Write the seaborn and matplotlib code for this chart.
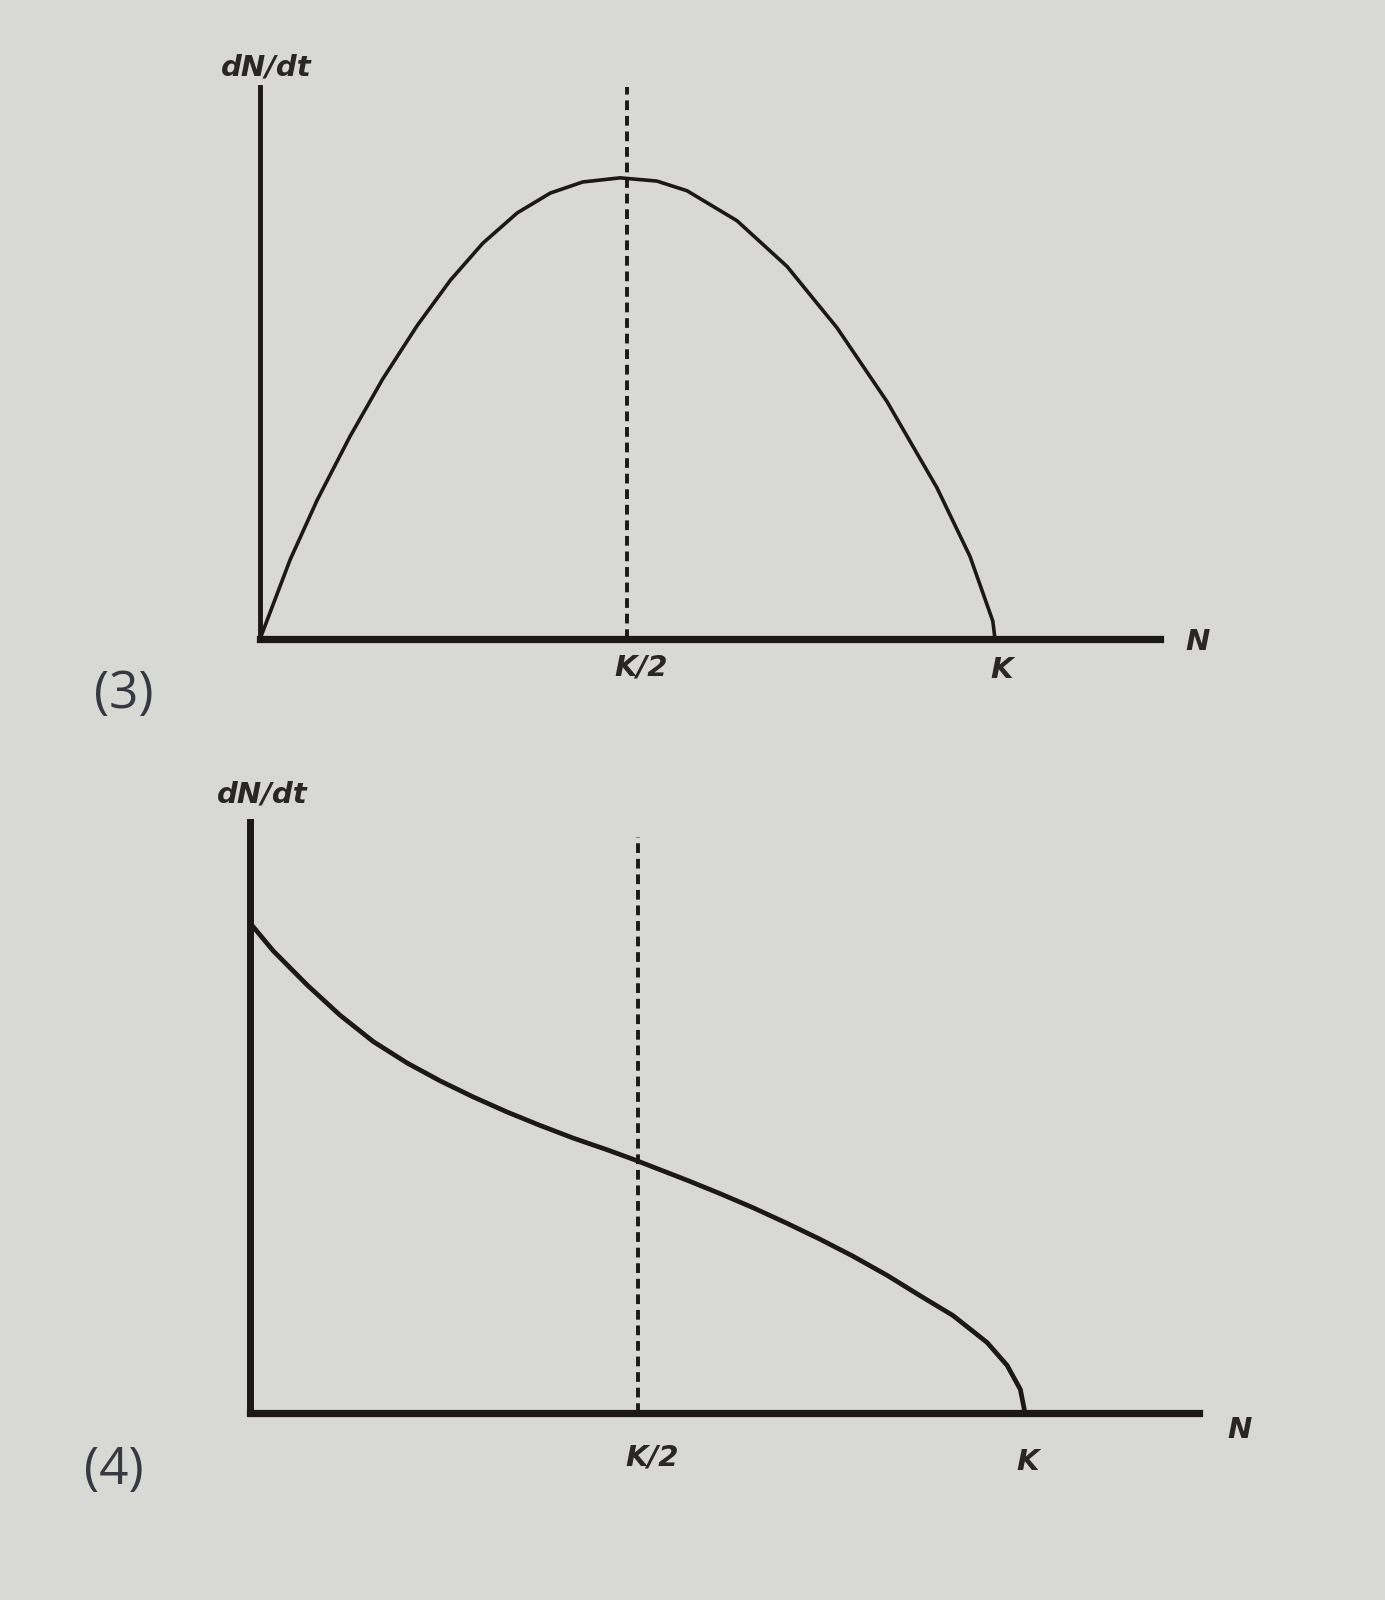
import matplotlib
matplotlib.use("Agg")
import matplotlib.pyplot as plt
import seaborn as sns
import pandas as pd

# ---- data (N in units of K, dN/dt relative) ----
n_panel3 = [0.0, 0.041, 0.078, 0.122, 0.167, 0.214, 0.259, 0.303, 0.350, 0.395,
            0.439, 0.490, 0.540, 0.581, 0.649, 0.717, 0.785, 0.853, 0.921, 0.966,
            0.997, 1.0]
rate_panel3 = [0.0, 0.172, 0.302, 0.438, 0.564, 0.680, 0.778, 0.858, 0.924, 0.967,
               0.991, 1.0, 0.993, 0.972, 0.907, 0.808, 0.675, 0.515, 0.328, 0.179,
               0.039, 0.0]

n_panel4 = [0.0, 0.030, 0.074, 0.116, 0.159, 0.203, 0.245, 0.288, 0.332, 0.374,
            0.417, 0.461, 0.494, 0.520, 0.564, 0.606, 0.649, 0.693, 0.735, 0.778,
            0.822, 0.865, 0.907, 0.951, 0.977, 0.994, 1.0]
rate_panel4 = [1.0, 0.943, 0.873, 0.812, 0.758, 0.714, 0.678, 0.645, 0.614, 0.587,
               0.561, 0.537, 0.518, 0.502, 0.475, 0.448, 0.419, 0.387, 0.355, 0.320,
               0.281, 0.239, 0.199, 0.144, 0.097, 0.048, 0.0]

tick_positions = [0.5, 1.0]
tick_labels = ["K/2", "K"]
x_label = "N"
y_label = "dN/dt"
panel_labels = ["(3)", "(4)"]

# ---- styling ----
BG = "#d8d8d5"
INK = "#1c1818"
LABEL_INK = "#363940"

sns.set_style("white")
plt.rcParams["font.family"] = ["DejaVu Sans"]

W, H = 1385, 1600
fig = plt.figure(figsize=(W / 100, H / 100), dpi=100)
fig.patch.set_facecolor(BG)


def axes_px(left, right, bottom, top):
    return fig.add_axes([left / W, 1 - bottom / H, (right - left) / W, (bottom - top) / H])


def ftext(x, y, s, **kw):
    fig.text(x / W, 1 - y / H, s, ha="center", va="center", **kw)


label_kw = dict(fontsize=21, fontweight="bold", fontstyle="italic", color="#2a2626")

panels = [
    dict(box=(260, 1160, 639, 87), ymax=1.197, n=n_panel3, r=rate_panel3,
         ylw=3.5, clw=2.6, dash_top=1.0,
         ylab=(266, 68), nlab=(1198, 642), ticklab=[(641, 668), (1002, 670)],
         plab=(124, 694), plabel=panel_labels[0]),
    dict(box=(250, 1199, 1413, 822), ymax=1.206, n=n_panel4, r=rate_panel4,
         ylw=5.0, clw=3.4, dash_top=0.975,
         ylab=(262, 794), nlab=(1240, 1430), ticklab=[(652, 1458), (1028, 1462)],
         plab=(114, 1470), plabel=panel_labels[1]),
]

for p in panels:
    ax = axes_px(*p["box"])
    ax.set_facecolor(BG)
    df = pd.DataFrame({"N": p["n"], "rate": p["r"]})
    line = sns.lineplot(data=df, x="N", y="rate", ax=ax, color=INK,
                        linewidth=p["clw"], sort=False, estimator=None)
    for ln in ax.get_lines():
        ln.set_solid_joinstyle("round")
        ln.set_solid_capstyle("round")
    ax.axvline(tick_positions[0], ymin=0, ymax=p["dash_top"], color=INK,
               linewidth=2.8, linestyle=(0, (2.5, 1.5)))
    ax.set_xlim(0, 1.2245)
    ax.set_ylim(0, p["ymax"])
    ax.set_xticks([])
    ax.set_yticks([])
    ax.set_xlabel("")
    ax.set_ylabel("")
    for side in ["top", "right"]:
        ax.spines[side].set_visible(False)
    ax.spines["bottom"].set_linewidth(5.2)
    ax.spines["bottom"].set_color(INK)
    ax.spines["left"].set_linewidth(p["ylw"])
    ax.spines["left"].set_color(INK)
    ax.spines["bottom"].set_zorder(5)

    ftext(*p["ylab"], y_label, **label_kw)
    ftext(*p["nlab"], x_label, **label_kw)
    for (x, y), lab in zip(p["ticklab"], tick_labels):
        ftext(x, y, lab, **label_kw)
    ftext(*p["plab"], p["plabel"], fontsize=37, color=LABEL_INK,
          family=["Open Sans", "DejaVu Sans"])

fig.savefig("out.png", dpi=100, facecolor=BG)
